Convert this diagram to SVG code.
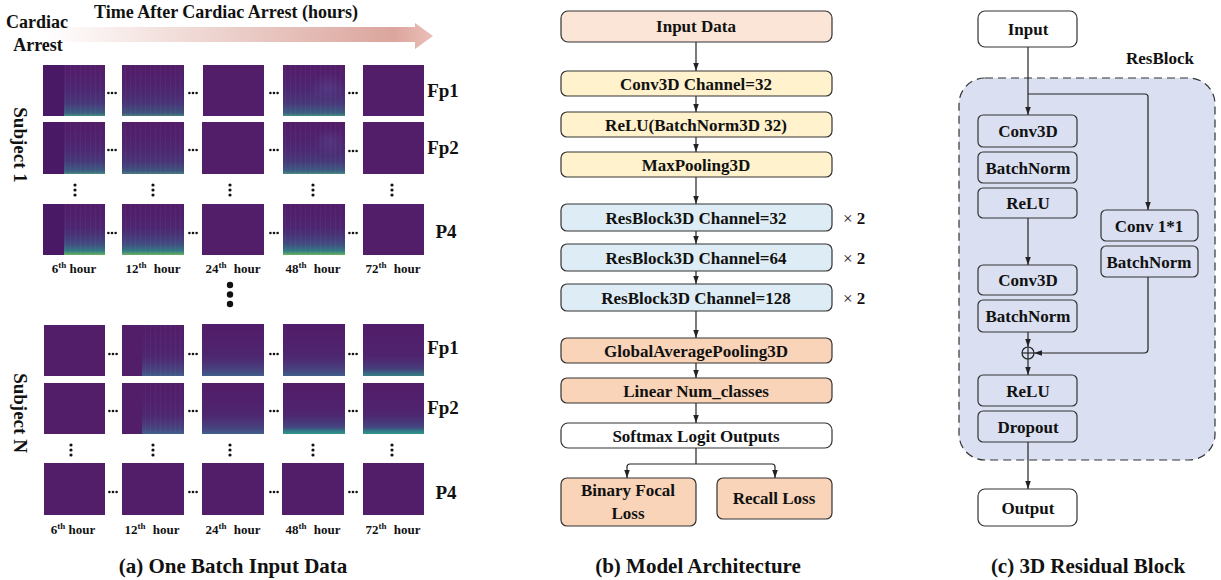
<svg xmlns="http://www.w3.org/2000/svg" width="1221" height="580" viewBox="0 0 1221 580">
<style>
text{font-family:"Liberation Serif","Times New Roman",serif;font-weight:bold;fill:#111}
.bx{stroke:#333;stroke-width:1.2}
.lbl{font-size:17px;text-anchor:middle}
.cap{font-size:21px;text-anchor:middle}
.ch{font-size:19px;text-anchor:middle}
.hr{font-size:13px;text-anchor:middle}
.sup{font-size:9px}
.cn{fill:none;stroke:#222;stroke-width:1.2}
.base{fill:#521d69}
.dark{fill:#4a1966}
.dot{fill:#111}
.peach{fill:#fbe5d6}
.yel{fill:#fff2cc}
.blu{fill:#deedf5}
.ora{fill:#f9d4b8}
.wh{fill:#fff}
.lav{fill:#dae0f2}
</style>
<defs>
<linearGradient id="arrG" x1="45" y1="0" x2="433" y2="0" gradientUnits="userSpaceOnUse">
<stop offset="0" stop-color="#ffffff"/>
<stop offset="0.9" stop-color="#dba59c"/>
<stop offset="1" stop-color="#ecc0b9"/>
</linearGradient>
<linearGradient id="gA" x1="0" y1="0" x2="0" y2="1">
<stop offset="0" stop-color="#4a2a78" stop-opacity="0"/>
<stop offset="0.4" stop-color="#47317c" stop-opacity="0.35"/>
<stop offset="0.75" stop-color="#3f4e88" stop-opacity="0.55"/>
<stop offset="0.94" stop-color="#327a8c" stop-opacity="0.7"/>
<stop offset="1" stop-color="#45a985" stop-opacity="0.8"/>
</linearGradient>
<linearGradient id="gP" x1="0" y1="0" x2="0" y2="1">
<stop offset="0" stop-color="#4a2a78" stop-opacity="0"/>
<stop offset="0.45" stop-color="#45357f" stop-opacity="0.35"/>
<stop offset="0.78" stop-color="#38648c" stop-opacity="0.65"/>
<stop offset="0.92" stop-color="#2c918b" stop-opacity="0.8"/>
<stop offset="1" stop-color="#6cc35e" stop-opacity="0.9"/>
</linearGradient>
<linearGradient id="gF" x1="0" y1="0" x2="0" y2="1">
<stop offset="0" stop-color="#4a2a78" stop-opacity="0"/>
<stop offset="0.6" stop-color="#463a80" stop-opacity="0.3"/>
<stop offset="0.9" stop-color="#3f6391" stop-opacity="0.6"/>
<stop offset="1" stop-color="#3b7695" stop-opacity="0.75"/>
</linearGradient>
<linearGradient id="gT" x1="0" y1="0" x2="0" y2="1">
<stop offset="0" stop-color="#4a2a78" stop-opacity="0"/>
<stop offset="0.6" stop-color="#46377f" stop-opacity="0.3"/>
<stop offset="0.86" stop-color="#3b6391" stop-opacity="0.6"/>
<stop offset="0.95" stop-color="#2a918e" stop-opacity="0.85"/>
<stop offset="1" stop-color="#2fa58a" stop-opacity="0.9"/>
</linearGradient>
<radialGradient id="blob">
<stop offset="0" stop-color="#5a4a95" stop-opacity="0.45"/>
<stop offset="1" stop-color="#5a4a95" stop-opacity="0"/>
</radialGradient>
<pattern id="streak" width="5" height="10" patternUnits="userSpaceOnUse">
<rect x="0" y="0" width="1" height="10" fill="#ffffff" fill-opacity="0.03"/>
</pattern>
<marker id="ah" viewBox="0 0 10 10" refX="10" refY="5" markerWidth="8" markerHeight="5.5" markerUnits="userSpaceOnUse" orient="auto" preserveAspectRatio="none">
<path d="M0,0 L10,5 L0,10 z" fill="#222"/>
</marker>
<g id="hd"><circle cx="-3.6" cy="0" r="1.3"/><circle cx="0" cy="0" r="1.3"/><circle cx="3.6" cy="0" r="1.3"/></g>
<g id="vd"><circle cx="0" cy="-5" r="1.6"/><circle cx="0" cy="0" r="1.6"/><circle cx="0" cy="5" r="1.6"/></g>
</defs>

<!-- (a) One Batch Input Data -->
<g id="panelA">
<polygon points="45,27 415,27 415,23 433,36 415,49 415,42 45,42" fill="url(#arrG)"/>
<text x="226" y="18" style="font-size:18px;text-anchor:middle">Time After Cardiac Arrest (hours)</text>
<text x="37" y="28" style="font-size:18px;text-anchor:middle">Cardiac</text>
<text x="38" y="51" style="font-size:18px;text-anchor:middle">Arrest</text>
<text transform="translate(14,145) rotate(90)" style="font-size:19px;text-anchor:middle">Subject 1</text>
<text transform="translate(14,413) rotate(90)" style="font-size:19px;text-anchor:middle">Subject N</text>

<!-- Subject 1 spectrograms -->
<g id="s1">
<rect class="base" x="43" y="65" width="62" height="51"/>
<rect class="dark" x="43" y="65" width="21" height="51"/>
<rect x="64" y="65" width="41" height="51" fill="url(#gA)"/>
<rect x="64" y="65" width="41" height="51" fill="url(#streak)"/>
<rect class="base" x="122" y="65" width="62" height="51"/>
<rect x="122" y="65" width="62" height="51" fill="url(#gA)" opacity="0.85"/>
<rect x="122" y="65" width="62" height="51" fill="url(#streak)"/>
<rect class="base" x="203" y="65" width="61" height="51"/>
<rect class="base" x="283" y="65" width="62" height="51"/>
<rect x="283" y="65" width="62" height="51" fill="url(#gA)"/>
<ellipse cx="328" cy="88" rx="18" ry="14" fill="url(#blob)"/>
<rect x="283" y="65" width="62" height="51" fill="url(#streak)"/>
<rect class="base" x="363" y="65" width="61" height="51"/>

<rect class="base" x="43" y="122" width="62" height="52"/>
<rect class="dark" x="43" y="122" width="21" height="52"/>
<rect x="64" y="122" width="41" height="52" fill="url(#gA)"/>
<rect x="64" y="122" width="41" height="52" fill="url(#streak)"/>
<rect class="base" x="122" y="122" width="62" height="52"/>
<rect x="122" y="122" width="62" height="52" fill="url(#gA)" opacity="0.85"/>
<rect x="122" y="122" width="62" height="52" fill="url(#streak)"/>
<rect class="base" x="202" y="122" width="62" height="52"/>
<rect class="base" x="283" y="122" width="62" height="52"/>
<rect x="283" y="122" width="62" height="52" fill="url(#gA)"/>
<ellipse cx="330" cy="142" rx="16" ry="14" fill="url(#blob)"/>
<rect x="283" y="122" width="62" height="52" fill="url(#streak)"/>
<rect class="base" x="363" y="122" width="61" height="52"/>

<rect class="base" x="43" y="204" width="62" height="51"/>
<rect class="dark" x="43" y="204" width="21" height="51"/>
<rect x="64" y="204" width="41" height="51" fill="url(#gP)"/>
<rect x="64" y="204" width="41" height="51" fill="url(#streak)"/>
<rect class="base" x="122" y="204" width="62" height="51"/>
<rect x="122" y="204" width="62" height="51" fill="url(#gP)"/>
<rect x="122" y="204" width="62" height="51" fill="url(#streak)"/>
<rect class="base" x="202" y="204" width="62" height="51"/>
<rect class="base" x="283" y="204" width="62" height="51"/>
<rect x="283" y="204" width="62" height="51" fill="url(#gP)"/>
<rect x="283" y="204" width="62" height="51" fill="url(#streak)"/>
<rect class="base" x="363" y="204" width="61" height="51"/>
</g>

<!-- Subject N spectrograms -->
<g id="sN">
<rect class="base" x="44" y="325" width="61" height="51"/>
<rect class="base" x="122" y="325" width="62" height="51"/>
<rect x="142" y="325" width="42" height="51" fill="url(#gF)"/>
<rect x="142" y="325" width="42" height="51" fill="url(#streak)"/>
<rect class="base" x="202" y="324" width="62" height="52"/>
<rect x="202" y="324" width="62" height="52" fill="url(#gF)"/>
<rect class="base" x="283" y="324" width="62" height="52"/>
<rect x="283" y="324" width="62" height="52" fill="url(#gF)"/>
<rect class="base" x="363" y="324" width="61" height="52"/>
<rect x="363" y="324" width="61" height="52" fill="url(#gT)" opacity="0.8"/>

<rect class="base" x="44" y="383" width="61" height="51"/>
<rect class="base" x="122" y="383" width="62" height="51"/>
<rect x="142" y="383" width="42" height="51" fill="url(#gF)"/>
<rect x="142" y="383" width="42" height="51" fill="url(#streak)"/>
<rect class="base" x="202" y="383" width="62" height="51"/>
<rect x="202" y="383" width="62" height="51" fill="url(#gF)"/>
<rect class="base" x="283" y="383" width="62" height="51"/>
<rect x="283" y="383" width="62" height="51" fill="url(#gT)"/>
<rect class="base" x="363" y="383" width="61" height="51"/>
<rect x="363" y="383" width="61" height="51" fill="url(#gT)"/>

<rect class="base" x="44" y="463" width="61" height="52"/>
<rect class="base" x="122" y="463" width="62" height="52"/>
<rect class="base" x="202" y="463" width="62" height="52"/>
<rect class="base" x="282" y="463" width="62" height="52"/>
<rect class="base" x="363" y="463" width="61" height="52"/>
</g>

<g class="dot">
<use href="#hd" x="112" y="93"/><use href="#hd" x="193" y="93"/><use href="#hd" x="274" y="93"/><use href="#hd" x="353" y="93"/>
<use href="#hd" x="112" y="150"/><use href="#hd" x="193" y="150"/><use href="#hd" x="274" y="150"/><use href="#hd" x="353" y="151"/>
<use href="#hd" x="112" y="233"/><use href="#hd" x="193" y="233"/><use href="#hd" x="274" y="233"/><use href="#hd" x="353" y="233"/>
<use href="#vd" x="75" y="190"/><use href="#vd" x="153" y="190"/><use href="#vd" x="230" y="190"/><use href="#vd" x="313" y="190"/><use href="#vd" x="392" y="190"/>
<circle cx="230" cy="285" r="3.2"/><circle cx="230" cy="294.5" r="3.2"/><circle cx="230" cy="304" r="3.2"/>
<use href="#hd" x="113" y="354"/><use href="#hd" x="193" y="354"/><use href="#hd" x="274" y="354"/><use href="#hd" x="353" y="354"/>
<use href="#hd" x="113" y="411"/><use href="#hd" x="193" y="411"/><use href="#hd" x="274" y="411"/><use href="#hd" x="353" y="411"/>
<use href="#hd" x="113" y="492"/><use href="#hd" x="193" y="492"/><use href="#hd" x="274" y="492"/><use href="#hd" x="353" y="492"/>
<use href="#vd" x="71" y="450"/><use href="#vd" x="153" y="450"/><use href="#vd" x="230" y="450"/><use href="#vd" x="313" y="450"/><use href="#vd" x="392" y="450"/>
</g>

<text class="ch" x="443" y="97">Fp1</text>
<text class="ch" x="443" y="154">Fp2</text>
<text class="ch" x="446" y="238">P4</text>
<text class="ch" x="443" y="354">Fp1</text>
<text class="ch" x="443" y="414">Fp2</text>
<text class="ch" x="446" y="499">P4</text>

<text class="hr" x="74" y="273">6<tspan class="sup" dy="-5">th</tspan><tspan dy="5"> hour</tspan></text>
<text class="hr" x="153" y="273">12<tspan class="sup" dy="-5">th</tspan><tspan dy="5" dx="4"> hour</tspan></text>
<text class="hr" x="233" y="273">24<tspan class="sup" dy="-5">th</tspan><tspan dy="5" dx="4"> hour</tspan></text>
<text class="hr" x="313" y="273">48<tspan class="sup" dy="-5">th</tspan><tspan dy="5" dx="4"> hour</tspan></text>
<text class="hr" x="393" y="273">72<tspan class="sup" dy="-5">th</tspan><tspan dy="5" dx="4"> hour</tspan></text>
<text class="hr" x="73" y="534">6<tspan class="sup" dy="-5">th</tspan><tspan dy="5"> hour</tspan></text>
<text class="hr" x="152" y="534">12<tspan class="sup" dy="-5">th</tspan><tspan dy="5" dx="4"> hour</tspan></text>
<text class="hr" x="233" y="534">24<tspan class="sup" dy="-5">th</tspan><tspan dy="5" dx="4"> hour</tspan></text>
<text class="hr" x="313" y="534">48<tspan class="sup" dy="-5">th</tspan><tspan dy="5" dx="4"> hour</tspan></text>
<text class="hr" x="393" y="534">72<tspan class="sup" dy="-5">th</tspan><tspan dy="5" dx="4"> hour</tspan></text>

<text class="cap" x="233" y="573">(a) One Batch Input Data</text>
</g>

<!-- (b) Model Architecture -->
<g id="connB">
<line class="cn" x1="696" y1="42" x2="696" y2="71" marker-end="url(#ah)"/>
<line class="cn" x1="696" y1="96" x2="696" y2="112" marker-end="url(#ah)"/>
<line class="cn" x1="696" y1="137" x2="696" y2="152" marker-end="url(#ah)"/>
<line class="cn" x1="696" y1="177" x2="696" y2="204" marker-end="url(#ah)"/>
<line class="cn" x1="696" y1="231" x2="696" y2="244" marker-end="url(#ah)"/>
<line class="cn" x1="696" y1="271" x2="696" y2="284" marker-end="url(#ah)"/>
<line class="cn" x1="696" y1="311" x2="696" y2="338" marker-end="url(#ah)"/>
<line class="cn" x1="696" y1="363" x2="696" y2="378" marker-end="url(#ah)"/>
<line class="cn" x1="696" y1="403" x2="696" y2="423" marker-end="url(#ah)"/>
<line class="cn" x1="696" y1="448" x2="696" y2="464"/>
<path class="cn" d="M696,464 H630 Q627,464 627,467 V478" marker-end="url(#ah)"/>
<path class="cn" d="M696,464 H772 Q775,464 775,467 V478" marker-end="url(#ah)"/>
</g>
<g id="b_input"><rect class="bx peach" x="561" y="11" width="271" height="31" rx="7"/><text class="lbl" x="696" y="32">Input Data</text></g>
<g id="b_conv"><rect class="bx yel" x="561" y="71" width="271" height="25" rx="6"/><text class="lbl" x="696" y="89.5">Conv3D Channel=32</text></g>
<g id="b_relu"><rect class="bx yel" x="561" y="112" width="271" height="25" rx="6"/><text class="lbl" x="696" y="130.5">ReLU(BatchNorm3D 32)</text></g>
<g id="b_pool"><rect class="bx yel" x="561" y="152" width="271" height="25" rx="6"/><text class="lbl" x="696" y="170.5">MaxPooling3D</text></g>
<g id="b_res32"><rect class="bx blu" x="561" y="204" width="271" height="27" rx="6"/><text class="lbl" x="696" y="223.5">ResBlock3D Channel=32</text><text x="843" y="224" style="font-size:17px"><tspan style="font-weight:normal">×</tspan> 2</text></g>
<g id="b_res64"><rect class="bx blu" x="561" y="244" width="271" height="27" rx="6"/><text class="lbl" x="696" y="263.5">ResBlock3D Channel=64</text><text x="843" y="264" style="font-size:17px"><tspan style="font-weight:normal">×</tspan> 2</text></g>
<g id="b_res128"><rect class="bx blu" x="561" y="284" width="271" height="27" rx="6"/><text class="lbl" x="696" y="303.5">ResBlock3D Channel=128</text><text x="843" y="304" style="font-size:17px"><tspan style="font-weight:normal">×</tspan> 2</text></g>
<g id="b_gap"><rect class="bx ora" x="561" y="338" width="271" height="25" rx="6"/><text class="lbl" x="696" y="356.5">GlobalAveragePooling3D</text></g>
<g id="b_lin"><rect class="bx ora" x="561" y="378" width="271" height="25" rx="6"/><text class="lbl" x="696" y="396.5">Linear Num_classes</text></g>
<g id="b_soft"><rect class="bx wh" x="561" y="423" width="271" height="25" rx="7"/><text class="lbl" x="696" y="441.5">Softmax Logit Outputs</text></g>
<g id="b_bfl"><rect class="bx ora" x="561" y="478" width="135" height="48" rx="6"/><text class="lbl" x="628" y="496">Binary Focal</text><text class="lbl" x="628" y="519">Loss</text></g>
<g id="b_rl"><rect class="bx ora" x="717" y="478" width="115" height="41" rx="6"/><text class="lbl" x="774" y="504">Recall Loss</text></g>
<text class="cap" x="698" y="573">(b) Model Architecture</text>

<!-- (c) 3D Residual Block -->
<g id="c_container"><rect x="959" y="78" width="256" height="382" rx="26" fill="#dae0f2" stroke="#333" stroke-width="1.2" stroke-dasharray="8,5"/><text x="1160" y="64" style="font-size:17px;text-anchor:middle">ResBlock</text></g>
<g id="connC">
<line class="cn" x1="1028" y1="47" x2="1028" y2="115" marker-end="url(#ah)"/>
<path class="cn" d="M1028,94 H1145 Q1148,94 1148,97 V210" marker-end="url(#ah)"/>
<line class="cn" x1="1028" y1="218" x2="1028" y2="265" marker-end="url(#ah)"/>
<line class="cn" x1="1028" y1="332" x2="1028" y2="347" marker-end="url(#ah)"/>
<path class="cn" d="M1148,277 V349 Q1148,353 1144,353 H1034" marker-end="url(#ah)"/>
<line class="cn" x1="1028" y1="359" x2="1028" y2="375" marker-end="url(#ah)"/>
<line class="cn" x1="1028" y1="442" x2="1028" y2="489" marker-end="url(#ah)"/>
</g>
<g id="c_input"><rect class="bx wh" x="978" y="11" width="99" height="36" rx="7"/><text class="lbl" x="1028" y="35">Input</text></g>
<g id="c_conv1"><rect class="bx lav" x="978" y="115" width="99" height="32" rx="5"/><text class="lbl" x="1028" y="137">Conv3D</text></g>
<g id="c_bn1"><rect class="bx lav" x="978" y="152" width="99" height="31" rx="5"/><text class="lbl" x="1028" y="173.5">BatchNorm</text></g>
<g id="c_relu1"><rect class="bx lav" x="978" y="188" width="99" height="30" rx="5"/><text class="lbl" x="1028" y="209">ReLU</text></g>
<g id="c_conv11"><rect class="bx lav" x="1101" y="210" width="97" height="31" rx="5"/><text class="lbl" x="1149" y="231.5">Conv 1*1</text></g>
<g id="c_bnr"><rect class="bx lav" x="1101" y="246" width="97" height="31" rx="5"/><text class="lbl" x="1149" y="267.5">BatchNorm</text></g>
<g id="c_conv2"><rect class="bx lav" x="978" y="265" width="99" height="30" rx="5"/><text class="lbl" x="1028" y="286">Conv3D</text></g>
<g id="c_bn2"><rect class="bx lav" x="978" y="300" width="99" height="32" rx="5"/><text class="lbl" x="1028" y="322">BatchNorm</text></g>
<g id="c_add"><circle cx="1028" cy="353" r="6" fill="none" stroke="#222" stroke-width="1.2"/><line x1="1022" y1="353" x2="1034" y2="353" stroke="#222" stroke-width="1.2"/><line x1="1028" y1="347" x2="1028" y2="359" stroke="#222" stroke-width="1.2"/></g>
<g id="c_relu2"><rect class="bx lav" x="978" y="375" width="99" height="31" rx="5"/><text class="lbl" x="1028" y="396.5">ReLU</text></g>
<g id="c_drop"><rect class="bx lav" x="978" y="411" width="99" height="31" rx="5"/><text class="lbl" x="1028" y="432.5">Dropout</text></g>
<g id="c_output"><rect class="bx wh" x="978" y="489" width="99" height="37" rx="7"/><text class="lbl" x="1028" y="513.5">Output</text></g>
<text class="cap" x="1088" y="573">(c) 3D Residual Block</text>
</svg>
